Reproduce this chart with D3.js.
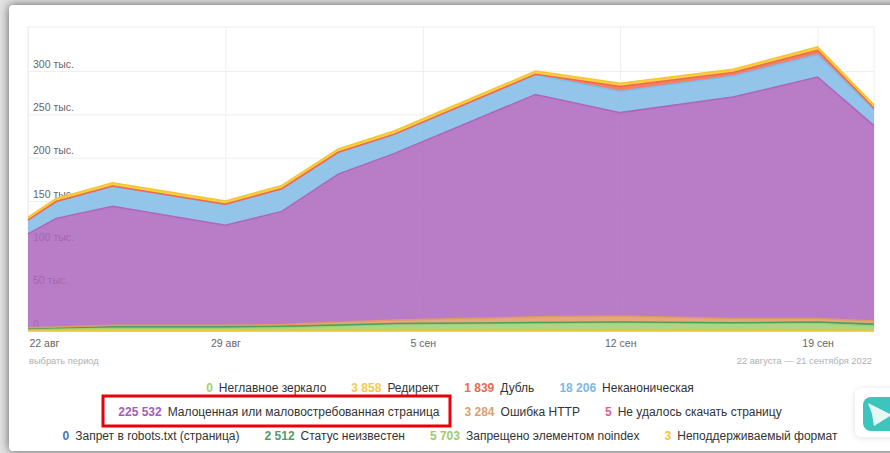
<!DOCTYPE html>
<html>
<head>
<meta charset="utf-8">
<script src="https://cdn.jsdelivr.net/npm/d3@7"></script>
<style>
  html, body { margin: 0; padding: 0; width: 890px; height: 453px; overflow: hidden; background: #e2e2e2; }
  #card { position: absolute; left: 9px; top: 5px; width: 900px; height: 446px; background: #fff; border-radius: 4px; box-shadow: 0 0 10px rgba(0,0,0,.6); }
  svg { position: absolute; left: 0; top: 0; }
  .axis text { font-family: "Liberation Sans", Arial, sans-serif; font-size: 10.5px; fill: #666; }
  .axis path { display: none; }
  .axis line { stroke: #eeeeee; }
  .legend { font-family: "Liberation Sans", Arial, sans-serif; font-size: 12px; fill: #333; }
</style>
</head>
<body>
<div id="card"></div>
<svg id="chart" width="890" height="453"></svg>
<script>
// dates where the curves have a vertex
const dates = ["2022-08-22", "2022-08-23", "2022-08-25", "2022-08-29", "2022-08-31", "2022-09-02",
  "2022-09-04", "2022-09-09", "2022-09-12", "2022-09-16", "2022-09-19", "2022-09-21"];

// values in thousands, bottom of the stack first
const unsupported = [0.003, 0.003, 0.003, 0.003, 0.003, 0.003, 0.003, 0.003, 0.003, 0.003, 0.003, 0.003];
const noindex = [2, 2.5, 3.5, 3.5, 4, 5.5, 7.5, 9, 9.5, 9, 9, 5.703];
const unknown = [1, 1.2, 1.5, 1.5, 1.5, 1.5, 1.2, 0.8, 0.8, 0.5, 1.5, 2.512];
const httpError = [0.8, 1, 1.5, 1.5, 2, 3, 4, 6.5, 7, 5, 4, 3.284];
const lowValue = [108.2, 125.3, 137.5, 115.5, 130.5, 171, 192.3, 256.7, 234.7, 255.5, 278.5, 225.532];
const nonCanonical = [15.8, 19.2, 23, 24, 26, 24.9, 21.9, 22.7, 24.6, 24.4, 26, 18.206];
const duplicate = [0.2, 0.2, 0.2, 0.2, 0.2, 0.3, 0.3, 0.5, 5.5, 4, 5, 1.839];
const redirect = [3.5, 3.6, 3.8, 3.8, 3.8, 3.8, 3.8, 3.8, 3.9, 3.6, 4, 3.858];

const yTicks = [0, 50, 100, 150, 200, 250, 300];
const xTicks = ["2022-08-22", "2022-08-29", "2022-09-05", "2022-09-12", "2022-09-19"];
const monthNames = { 7: "авг", 8: "сен" };

const stackSeries = [
  { key: "unsupported", values: unsupported, color: "#f7c52d" },
  { key: "noindex", values: noindex, color: "#9ecf70" },
  { key: "unknown", values: unknown, color: "#4f9e5f" },
  { key: "httpError", values: httpError, color: "#e19965" },
  { key: "lowValue", values: lowValue, color: "#ad65bd" },
  { key: "nonCanonical", values: nonCanonical, color: "#80bae6" },
  { key: "duplicate", values: duplicate, color: "#f2694a" },
  { key: "redirect", values: redirect, color: "#f7c52d" },
];

const legendRows = [
  [["0", "Неглавное зеркало", "#a5cf6f"], ["3 858", "Редирект", "#f7c84a"], ["1 839", "Дубль", "#ea6a50"], ["18 206", "Неканоническая", "#7cb8e4"]],
  [["225 532", "Малоценная или маловостребованная страница", "#a45cb8"], ["3 284", "Ошибка HTTP", "#d9a070"], ["5", "Не удалось скачать страницу", "#e0608f"]],
  [["0", "Запрет в robots.txt (страница)", "#4a72b8"], ["2 512", "Статус неизвестен", "#4f9e6a"], ["5 703", "Запрещено элементом noindex", "#9ccb6c"], ["3", "Неподдерживаемый формат", "#f5c531"]],
];

const parse = d3.utcParse("%Y-%m-%d");
const plotLeft = 28, plotRight = 874, plotTop = 27, plotBottom = 331;

const x = d3.scaleUtc().domain([parse(dates[0]), parse(dates[dates.length - 1])]).range([plotLeft, plotRight]);
const y = d3.scaleLinear().domain([0, 350.8]).range([plotBottom, plotTop]);

const svg = d3.select("#chart");

// axes go under the areas, the labels show through the fill
const yAxis = d3.axisRight(y).tickValues(yTicks).tickSize(plotRight - plotLeft)
  .tickFormat((d) => (d === 0 ? "0" : d + " тыс."));
const yG = svg.append("g").attr("class", "axis").attr("transform", `translate(${plotLeft},0)`).call(yAxis);
yG.selectAll("text").attr("x", 5).attr("dy", -4).style("text-anchor", "start");

const xAxis = d3.axisBottom(x).tickValues(xTicks.map(parse)).tickSize(plotTop - plotBottom).tickPadding(0)
  .tickFormat((d) => d.getUTCDate() + " " + monthNames[d.getUTCMonth()]);
const xG = svg.append("g").attr("class", "axis").attr("transform", `translate(0,${plotBottom})`).call(xAxis);
xG.selectAll("text").attr("y", 16).attr("dy", "0").style("text-anchor", (d, i) => (i === 0 ? "start" : "middle"));
xG.selectAll("text").filter((d, i) => i === 0).attr("dx", 1);

svg.append("rect").attr("x", plotLeft).attr("y", plotTop).attr("width", plotRight - plotLeft).attr("height", plotBottom - plotTop)
  .attr("fill", "none").attr("stroke", "#eeeeee");

const rows = dates.map((d, i) => {
  const row = { date: parse(d) };
  stackSeries.forEach((s) => (row[s.key] = s.values[i]));
  return row;
});
const layers = d3.stack().keys(stackSeries.map((s) => s.key))(rows);

const area = d3.area().x((d) => x(d.data.date)).y0((d) => y(d[0])).y1((d) => y(d[1]));
const line = d3.line().x((d) => x(d.data.date)).y((d) => y(d[1]));

svg.selectAll(".layer").data(layers).enter().append("path").attr("class", "layer")
  .attr("d", area).attr("fill", (d, i) => stackSeries[i].color).attr("fill-opacity", 0.85);

svg.selectAll(".edge").data(layers).enter().append("path").attr("class", "edge")
  .attr("d", line).attr("fill", "none").attr("stroke", (d, i) => stackSeries[i].color).attr("stroke-width", 1.5);

// captions under the plot
const caption = svg.append("g").style("font-family", "Liberation Sans, Arial, sans-serif").style("font-size", "9.3px").attr("fill", "#b0b0b0");
caption.append("text").attr("x", 29).attr("y", 364).text("выбрать период");
caption.append("text").attr("x", 872).attr("y", 364).attr("text-anchor", "end").text("22 августа — 21 сентября 2022");

// legend
const legend = svg.append("g").attr("class", "legend");
legendRows.forEach((row, r) => {
  const text = legend.append("text").attr("x", 450).attr("y", 392 + r * 24).attr("text-anchor", "middle");
  row.forEach((item, i) => {
    text.append("tspan").attr("dx", i === 0 ? 0 : 25).attr("fill", item[2]).attr("font-weight", "bold").text(item[0]);
    text.append("tspan").attr("dx", 6).text(item[1]);
  });
});

// red annotation frame
svg.append("rect").attr("x", 103).attr("y", 396).attr("width", 347).attr("height", 30)
  .attr("fill", "none").attr("stroke", "#e8000b").attr("stroke-width", 3);

// page widget at the right edge
const defs = svg.append("defs");
const shadow = defs.append("filter").attr("id", "soft").attr("x", "-30%").attr("y", "-30%").attr("width", "160%").attr("height", "160%");
shadow.append("feDropShadow").attr("dx", 0).attr("dy", 1).attr("stdDeviation", 3).attr("flood-color", "#000").attr("flood-opacity", 0.12);
const widget = svg.append("g");
widget.append("rect").attr("x", 855).attr("y", 388).attr("width", 50).attr("height", 49).attr("rx", 7).attr("fill", "#fff").attr("filter", "url(#soft)");
widget.append("rect").attr("x", 863).attr("y", 397).attr("width", 42).attr("height", 34).attr("rx", 8).attr("fill", "#3cc5bd");
widget.append("polygon").attr("points", "868,403 890,414 890,416 874,426 872,414").attr("fill", "#e6f8f6");
</script>
</body>
</html>
